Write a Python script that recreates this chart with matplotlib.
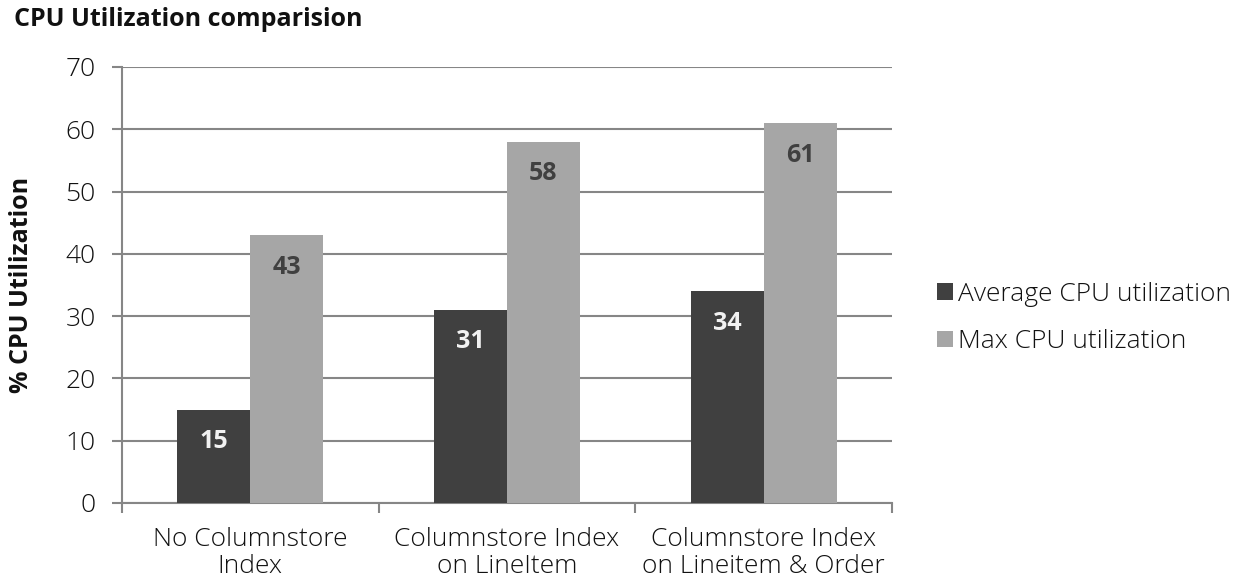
import numpy as np
import matplotlib
matplotlib.use('Agg')
import matplotlib.pyplot as plt

# data
Categories=['No Columnstore\nIndex','Columnstore Index\non LineItem','Columnstore Index\non Lineitem & Order']
AvgCPU=[15,31,34]
MaxCPU=[43,58,61]
SeriesNames=['Average CPU utilization','Max CPU utilization']
YTicks=[0,10,20,30,40,50,60,70]

plt.rcParams['font.family']=['Open Sans','DejaVu Sans']
plt.rcParams['font.weight']='light'
DarkColor='#404040'
LightColor='#A6A6A6'
GridColor='#868686'
TextColor='#111111'

fig=plt.figure(figsize=(12.55,5.81),dpi=100)
ax=fig.add_axes([122/1255,1-503/581,(892-122)/1255,(503-67)/581])

X=np.arange(len(Categories))
Width=0.284
Bars1=ax.bar(X-Width/2,AvgCPU,Width,color=DarkColor,label=SeriesNames[0],zorder=3)
Bars2=ax.bar(X+Width/2,MaxCPU,Width,color=LightColor,label=SeriesNames[1],zorder=3)

for b,v in zip(Bars1,AvgCPU):
    ax.annotate(str(v),(b.get_x()+b.get_width()/2,v),xytext=(0,-23),textcoords='offset points',
                ha='center',va='center',fontsize=18,fontweight='bold',color='#f2f2f2',zorder=4)
for b,v in zip(Bars2,MaxCPU):
    ax.annotate(str(v),(b.get_x()+b.get_width()/2,v),xytext=(0,-23),textcoords='offset points',
                ha='center',va='center',fontsize=18,fontweight='bold',color=DarkColor,zorder=4)

ax.set_ylim(0,70)
ax.set_xlim(-0.5,len(Categories)-0.5)
ax.set_yticks(YTicks)
ax.set_yticklabels([str(t) for t in YTicks],fontsize=19,color=TextColor)
ax.yaxis.grid(True,color=GridColor,linewidth=1.5,zorder=0)
ax.set_axisbelow(True)

# boundary ticks on x, labels at the centres
ax.set_xticks(np.arange(-0.5,len(Categories)))
ax.set_xticklabels([])
ax.set_xticks(X,minor=True)
ax.set_xticklabels(Categories,minor=True,fontsize=19,color=TextColor,linespacing=1.1)
ax.tick_params(axis='x',which='major',length=7,width=1.5,color=GridColor)
ax.tick_params(axis='x',which='minor',length=0,pad=17)
ax.tick_params(axis='y',length=7,width=1.5,color=GridColor,pad=12)

for s in ['top','right']:
    ax.spines[s].set_visible(False)
for s in ['left','bottom']:
    ax.spines[s].set_color(GridColor)
    ax.spines[s].set_linewidth(1.5)

fig.text(14/1255,1-19/581,'CPU Utilization comparision',fontsize=18,fontweight='bold',
         color=TextColor,ha='left',va='center')
fig.text(22/1255,1-285/581,'% CPU Utilization',fontsize=18,fontweight='bold',
         color=TextColor,rotation=90,ha='center',va='center')

fig.legend(loc='center left',bbox_to_anchor=(913/1255,1-318/581),frameon=False,fontsize=19,
           handlelength=0.6,handleheight=0.6,handletextpad=0.2,labelspacing=0.85,
           labelcolor=TextColor)

plt.savefig('out.png',dpi=100)
